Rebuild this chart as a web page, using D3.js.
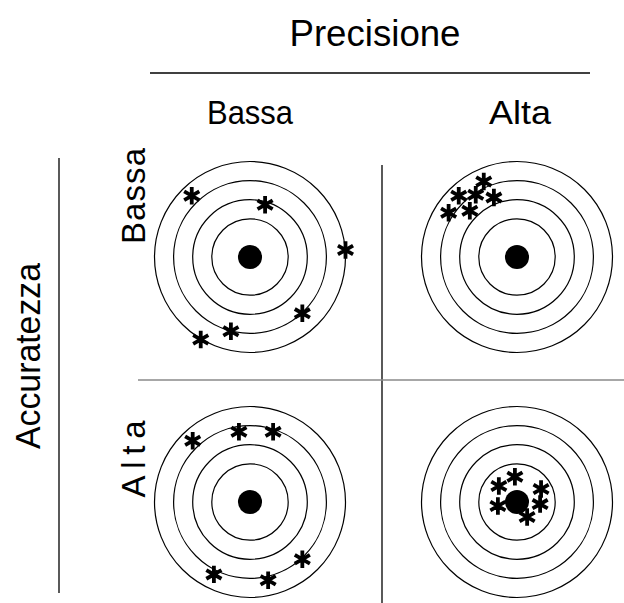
<!DOCTYPE html>
<html>
<head>
<meta charset="utf-8">
<script src="https://cdn.jsdelivr.net/npm/d3@7"></script>
<style>
  html, body { margin: 0; padding: 0; background: #fff; }
  svg { display: block; }
  text { font-family: "Liberation Sans", Arial, Helvetica, sans-serif; fill: #000; }
</style>
</head>
<body>
<svg id="chart" width="624" height="603"></svg>
<script>
// ---- data ----
const precisione = ["Bassa", "Alta"];        // columns
const accuratezza = ["Bassa", "Alta"];       // rows
const ringRadii = [2, 3, 4, 5];              // target rings (target units)
const bullseyeRadius = 0.63;

// shots per panel, in target units (x right, y up)
const shotsBassaBassa = [[-3.05, 3.21], [0.79, 2.74], [5.0, 0.37], [2.74, -2.95], [-1.0, -3.89], [-2.58, -4.32]];
const shotsBassaAlta  = [[-1.74, 3.95], [-3.05, 3.21], [-2.16, 3.26], [-1.21, 3.11], [-3.58, 2.32], [-2.47, 2.42]];
const shotsAltaBassa  = [[-3.0, 3.21], [-0.58, 3.68], [1.21, 3.68], [2.74, -3.0], [-1.89, -3.79], [0.95, -4.1]];
const shotsAltaAlta   = [[-0.95, 0.84], [-0.11, 1.32], [1.26, 0.68], [-1.0, -0.21], [1.21, -0.11], [0.53, -0.79]];

const panels = [
  { row: "Bassa", col: "Bassa", shots: shotsBassaBassa },
  { row: "Bassa", col: "Alta",  shots: shotsBassaAlta },
  { row: "Alta",  col: "Bassa", shots: shotsAltaBassa },
  { row: "Alta",  col: "Alta",  shots: shotsAltaAlta }
];

// ---- scales ----
const colScale = d3.scalePoint().domain(precisione).range([250, 517]);
const rowScale = d3.scalePoint().domain(accuratezza).range([257, 502]);
const ux = d3.scaleLinear().domain([-5, 5]).range([-95.5, 95.5]);
const uy = d3.scaleLinear().domain([-5, 5]).range([95.5, -95.5]);
const ur = d3.scaleLinear().domain([0, 5]).range([0, 95.5]);

const svg = d3.select("#chart");

// ---- frame lines ----
svg.append("line").attr("x1", 150).attr("x2", 590).attr("y1", 73).attr("y2", 73)
  .attr("stroke", "#000").attr("stroke-width", 1.3);
svg.append("line").attr("x1", 59).attr("x2", 59).attr("y1", 158).attr("y2", 593)
  .attr("stroke", "#000").attr("stroke-width", 1.3);
svg.append("line").attr("x1", 382).attr("x2", 382).attr("y1", 165).attr("y2", 603)
  .attr("stroke", "#000").attr("stroke-width", 1.3);
svg.append("line").attr("x1", 138).attr("x2", 624).attr("y1", 380).attr("y2", 380)
  .attr("stroke", "#8a8a8a").attr("stroke-width", 1.5);

// ---- titles ----
svg.append("text").attr("x", 375).attr("y", 46).attr("text-anchor", "middle")
  .attr("font-size", 36).attr("textLength", 171).attr("lengthAdjust", "spacingAndGlyphs")
  .text("Precisione");

const colLen = { "Bassa": 86, "Alta": 62 };
svg.selectAll("text.col").data(precisione).join("text").attr("class", "col")
  .attr("x", d => colScale(d) + (d === "Alta" ? 3 : 0)).attr("y", 124)
  .attr("text-anchor", "middle").attr("font-size", 34)
  .attr("textLength", d => colLen[d]).attr("lengthAdjust", "spacingAndGlyphs")
  .text(d => d);

svg.append("text").attr("transform", "translate(40,356) rotate(-90)")
  .attr("text-anchor", "middle").attr("font-size", 35)
  .attr("textLength", 186).attr("lengthAdjust", "spacingAndGlyphs")
  .text("Accuratezza");

const rowLen = { "Bassa": 96, "Alta": 77 };
const rowPos = { "Bassa": 196, "Alta": 459 };
svg.selectAll("text.row").data(accuratezza).join("text").attr("class", "row")
  .attr("transform", d => `translate(145,${rowPos[d]}) rotate(-90)`)
  .attr("text-anchor", "middle").attr("font-size", 33)
  .attr("textLength", d => rowLen[d]).attr("lengthAdjust", "spacing")
  .text(d => d);

// ---- targets ----
const star = d3.symbol().type(d3.symbolAsterisk).size(215);

const g = svg.selectAll("g.panel").data(panels).join("g").attr("class", "panel")
  .attr("transform", d => `translate(${colScale(d.col)},${rowScale(d.row)})`);

g.selectAll("circle.ring").data(ringRadii).join("circle").attr("class", "ring")
  .attr("r", d => ur(d)).attr("fill", "none")
  .attr("stroke", "#000").attr("stroke-width", 1.2);

g.append("circle").attr("r", ur(bullseyeRadius)).attr("fill", "#000");

g.selectAll("path.shot").data(d => d.shots).join("path").attr("class", "shot")
  .attr("transform", d => `translate(${ux(d[0])},${uy(d[1])})`)
  .attr("d", star).attr("fill", "none")
  .attr("stroke", "#000").attr("stroke-width", 3.8);
</script>
</body>
</html>
